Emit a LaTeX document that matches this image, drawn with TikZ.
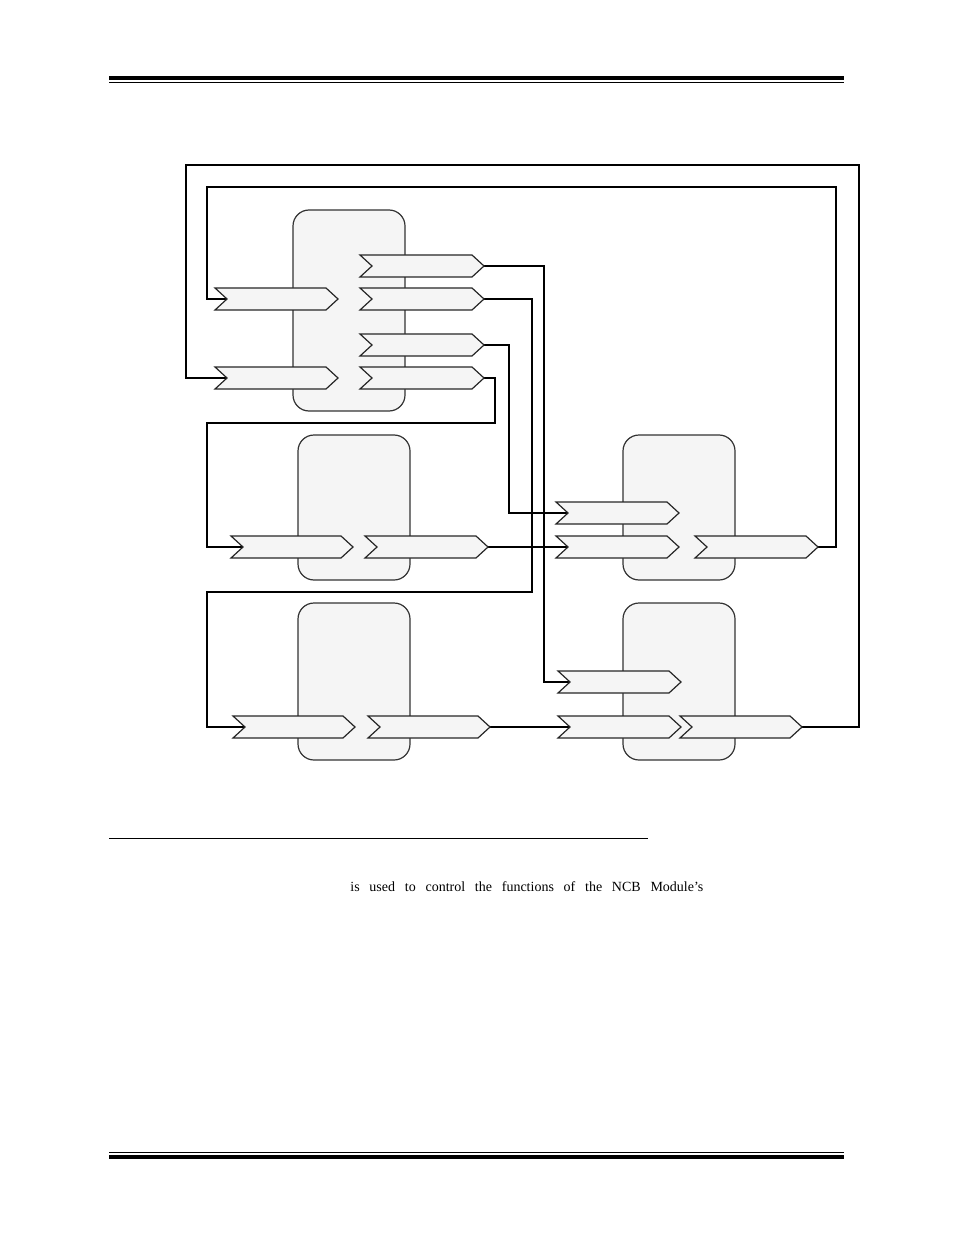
\documentclass[tikz,border=0pt]{standalone}
\usepackage{fontspec}
\setmainfont{Liberation Serif}
\tikzstyle{module}=[draw=black!80,fill=black!4,rounded corners=8,line width=0.6]
\tikzstyle{chev}=[draw=black!85,fill=black!4,line width=0.6,line join=miter]
\tikzstyle{wire}=[line width=0.55]
\tikzstyle{bus}=[line width=1.0]
% chevron: name, left x, right x, middle y
\newcommand{\chevron}[4]{%
  \draw[chev] (#2,#4-11) -- (#3-12,#4-11) -- (#3,#4) -- (#3-12,#4+11)
              -- (#2,#4+11) -- (#2+12,#4) -- cycle;
  \coordinate (#1i) at (#2+12,#4);
  \coordinate (#1o) at (#3,#4);}
\begin{document}
\begin{tikzpicture}[x=0.5pt,y=-0.5pt]
  \useasboundingbox (0,0) rectangle (954,1235);
  % page rules
  \draw[line width=2] (109,78) -- (844,78);
  \draw[line width=0.5] (109,82.5) -- (844,82.5);
  \draw[line width=0.5] (109,1152.5) -- (844,1152.5);
  \draw[line width=2] (109,1157) -- (844,1157);
  \draw[line width=0.5] (109,838) -- (648,838);
  \node[anchor=base west,inner sep=0,font=\fontsize{7}{8}\selectfont] (txt) at (350,891)
       {\hbox to 176.5pt{is\hfil used\hfil to\hfil control\hfil the\hfil functions\hfil of\hfil the\hfil NCB\hfil Module’s}};

  % modules
  \draw[module] (293,210) rectangle (405,411);
  \draw[module] (298,435) rectangle (410,580);
  \draw[module] (298,603) rectangle (410,760);
  \draw[module] (623,435) rectangle (735,580);
  \draw[module] (623,603) rectangle (735,760);

  % port positions (drawn after wires)
  \def\hA{215} \def\hB{338} \def\oA{360} \def\oB{484}
  \coordinate (aIi) at (227,299);  \coordinate (bIi) at (227,378);
  \coordinate (aOo) at (484,266);  \coordinate (bOo) at (484,299);
  \coordinate (cOo) at (484,345);  \coordinate (dOo) at (484,378);
  \coordinate (eIi) at (243,547);  \coordinate (eOo) at (488,547);
  \coordinate (fIi) at (245,727);  \coordinate (fOo) at (490,727);
  \coordinate (gIi) at (568,513);  \coordinate (hIi) at (568,547);
  \coordinate (hOo) at (818,547);
  \coordinate (kIi) at (570,682);  \coordinate (lIi) at (570,727);
  \coordinate (lOo) at (802,727);

  % wires
  \draw[wire] (hOo) -| (836,187) -| (207,299) -- (aIi);
  \draw[wire] (lOo) -| (859,165) -| (186,378) -- (bIi);
  \draw[wire] (aOo) -| (544,682) -- (kIi);
  \draw[bus]  (bOo) -| (532,592) -| (207,727) -- (fIi);
  \draw[bus]  (cOo) -| (509,513) -- (gIi);
  \draw[wire] (dOo) -| (495,423) -| (207,547) -- (eIi);
  \draw[bus]  (eOo) -- (hIi);
  \draw[wire] (fOo) -- (lIi);

  % ports
  \chevron{aI}{\hA}{\hB}{299}
  \chevron{bI}{\hA}{\hB}{378}
  \chevron{aO}{\oA}{\oB}{266}
  \chevron{bO}{\oA}{\oB}{299}
  \chevron{cO}{\oA}{\oB}{345}
  \chevron{dO}{\oA}{\oB}{378}
  \chevron{eI}{231}{353}{547}
  \chevron{eO}{365}{488}{547}
  \chevron{fI}{233}{355}{727}
  \chevron{fO}{368}{490}{727}
  \chevron{gI}{556}{679}{513}
  \chevron{hI}{556}{679}{547}
  \chevron{hO}{695}{818}{547}
  \chevron{kI}{558}{681}{682}
  \chevron{lI}{558}{681}{727}
  \chevron{lO}{680}{802}{727}
\end{tikzpicture}
\end{document}
